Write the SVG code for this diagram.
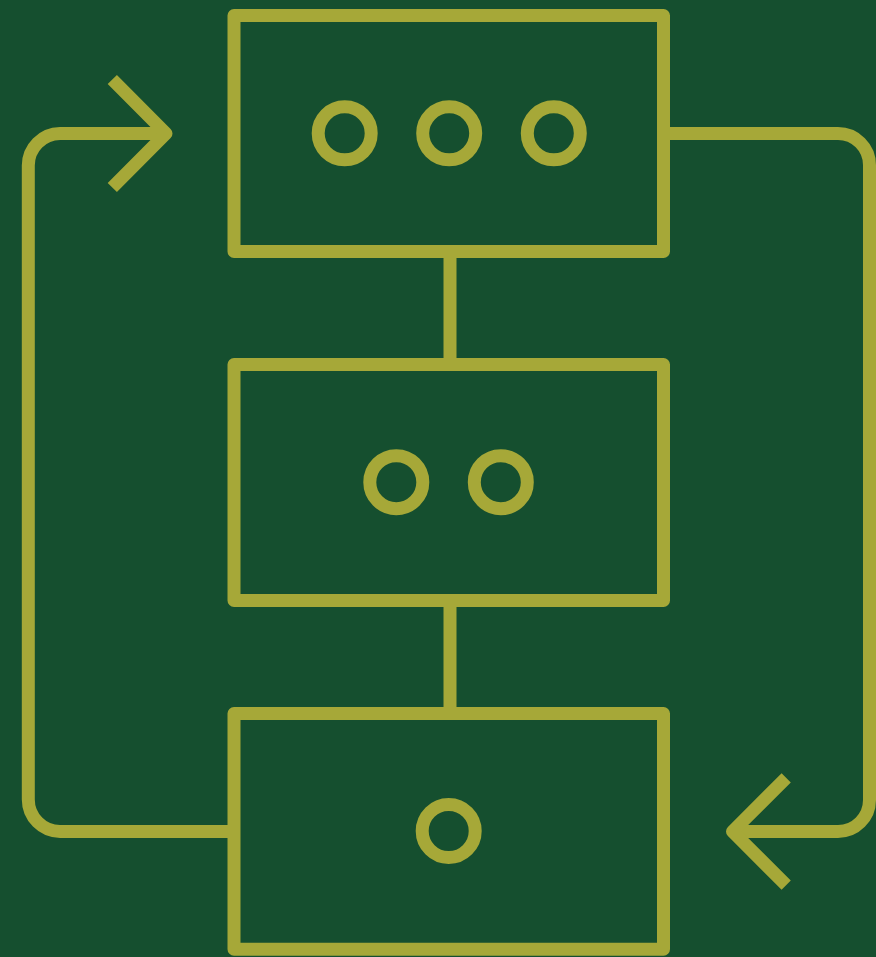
<svg xmlns="http://www.w3.org/2000/svg" width="876" height="957" viewBox="0 0 876 957">
<style>
.s{fill:none;stroke:#a6a838;stroke-width:13;stroke-linejoin:round}
.a{fill:none;stroke:#a6a838;stroke-width:13;stroke-linejoin:round;stroke-linecap:butt}
</style>
<rect width="876" height="957" fill="#154f2f"/>
<g id="connectors">
<path class="s" d="M450 251.5V364.5"/>
<path class="s" d="M450 600.5V713.5"/>
<path class="s" d="M234 831.5H60A32 32 0 0 1 28.3 799.5V165.5A32 32 0 0 1 60 133.5H166"/>
<path class="a" d="M112.3 79.5L166 133.5L112.3 187.5"/>
<path class="s" d="M663.5 133.5H838A31.5 31.5 0 0 1 869.5 165V800A31.5 31.5 0 0 1 838 831.5H732.5"/>
<path class="a" d="M786.2 777.8L732.5 831.5L786.2 885.2"/>
</g>
<g id="node-top">
<rect class="s" x="234" y="15.5" width="429.5" height="236"/>
<circle class="s" cx="344.7" cy="133.3" r="26.5"/>
<circle class="s" cx="449.2" cy="133.3" r="26.5"/>
<circle class="s" cx="553.8" cy="133.3" r="26.5"/>
</g>
<g id="node-middle">
<rect class="s" x="234" y="364.5" width="429.5" height="236"/>
<circle class="s" cx="396.3" cy="482.2" r="26.5"/>
<circle class="s" cx="500.8" cy="482.2" r="26.5"/>
</g>
<g id="node-bottom">
<rect class="s" x="234" y="713.5" width="429.5" height="235.7"/>
<circle class="s" cx="448.7" cy="831" r="26.5"/>
</g>
</svg>
